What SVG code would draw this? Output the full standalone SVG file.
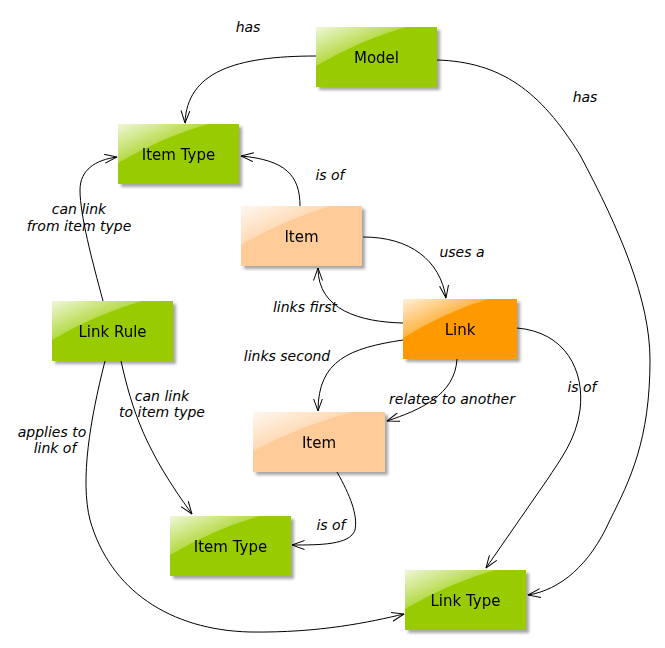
<svg xmlns="http://www.w3.org/2000/svg" width="665" height="648" viewBox="0 0 665 648">
<style>
.box{stroke:none}
.green{fill:#99CC00}
.peach{fill:#FFCC99}
.orange{fill:#FF9900}
.gloss{fill:url(#glossGrad)}
.nlabel{font-family:"DejaVu Sans",Verdana,sans-serif;font-size:15px;fill:#000;text-anchor:middle}
.elabel{font-family:"DejaVu Sans",Verdana,sans-serif;font-size:14px;font-style:italic;fill:#000;text-anchor:middle}
.edge{fill:none;stroke:#000;stroke-width:1;marker-end:url(#arrow)}
</style>
<defs>
<filter id="shadow" x="-10%" y="-10%" width="130%" height="140%">
<feDropShadow dx="3" dy="3" stdDeviation="1.5" flood-color="#000" flood-opacity="0.35"/>
</filter>
<linearGradient id="glossGrad" x1="0" y1="0" x2="1" y2="1">
<stop offset="0" stop-color="#fff" stop-opacity="0.85"/>
<stop offset="0.6" stop-color="#fff" stop-opacity="0.15"/>
<stop offset="1" stop-color="#fff" stop-opacity="0.05"/>
</linearGradient>
<marker id="arrow" viewBox="0 0 13 10" refX="12.5" refY="5" markerWidth="13" markerHeight="10" markerUnits="userSpaceOnUse" orient="auto">
<path d="M0,0.5 L12.5,5 L0,9.5" fill="none" stroke="#000" stroke-width="1"/>
</marker>
</defs>
<rect width="665" height="648" fill="#fff"/>

<g id="connectors">
<path class="edge" d="M316,56 C235,56 187,72 185,123"/>
<path class="edge" d="M300,206 C300,175 285,160 241,156"/>
<path class="edge" d="M437,60 C500,62 540,90 580,155 C620,230 650,300 650,360 C650,440 630,480 610,520 C590,565 560,590 528,595"/>
<path class="edge" d="M363,237 C410,237 440,260 446,298"/>
<path class="edge" d="M403,323 C360,322 318,310 318,268"/>
<path class="edge" d="M403,340 C350,348 318,360 318,411"/>
<path class="edge" d="M457,359 C455,395 420,410 387,421"/>
<path class="edge" d="M517,328 C565,332 585,370 580,410 C576,440 560,460 547,480 L486,568"/>
<path class="edge" d="M103,301 C92,260 80,215 80,190 C80,170 95,160 117,157"/>
<path class="edge" d="M121,361 C132,410 145,450 192,514"/>
<path class="edge" d="M105,361 C90,420 80,480 90,520 C110,590 170,630 250,632 C320,633 370,622 404,614"/>
<path class="edge" d="M337,472 C350,495 358,515 355,530 C350,545 320,545 292,545"/>
<text class="elabel" x="248" y="32">has</text>
<text class="elabel" x="585" y="102">has</text>
<text class="elabel" x="330" y="180">is of</text>
<text class="elabel" x="462" y="257">uses a</text>
<text class="elabel" x="305" y="312">links first</text>
<text class="elabel" x="287" y="361">links second</text>
<text class="elabel" x="452" y="404">relates to another</text>
<text class="elabel" x="582" y="392">is of</text>
<text class="elabel" x="79" y="214">can link</text>
<text class="elabel" x="79" y="231">from item type</text>
<text class="elabel" x="162" y="401">can link</text>
<text class="elabel" x="162" y="417">to item type</text>
<text class="elabel" x="52" y="437">applies to</text>
<text class="elabel" x="55" y="453">link of</text>
<text class="elabel" x="331" y="530">is of</text>
</g>

<g id="model" filter="url(#shadow)">
<rect class="box green" x="316" y="27" width="121" height="60"/>
<path class="gloss" d="M316,27 H406 Q360,40 316,66 Z"/>
<text class="nlabel" x="376.5" y="62.5">Model</text>
</g>
<g id="itemtype1" filter="url(#shadow)">
<rect class="box green" x="118" y="124" width="121" height="60"/>
<path class="gloss" d="M118,124 H208 Q162,137 118,163 Z"/>
<text class="nlabel" x="178.5" y="159.5">Item Type</text>
</g>
<g id="item1" filter="url(#shadow)">
<rect class="box peach" x="241" y="206" width="121" height="60"/>
<path class="gloss" d="M241,206 H331 Q285,219 241,245 Z"/>
<text class="nlabel" x="301.5" y="241.5">Item</text>
</g>
<g id="link" filter="url(#shadow)">
<rect class="box orange" x="403" y="299" width="114" height="60"/>
<path class="gloss" d="M403,299 H488 Q445,312 403,338 Z"/>
<text class="nlabel" x="460" y="334.5">Link</text>
</g>
<g id="linkrule" filter="url(#shadow)">
<rect class="box green" x="52" y="301" width="121" height="60"/>
<path class="gloss" d="M52,301 H142 Q96,314 52,340 Z"/>
<text class="nlabel" x="112.5" y="336.5">Link Rule</text>
</g>
<g id="item2" filter="url(#shadow)">
<rect class="box peach" x="253" y="412" width="132" height="60"/>
<path class="gloss" d="M253,412 H352 Q302,425 253,451 Z"/>
<text class="nlabel" x="319" y="447.5">Item</text>
</g>
<g id="itemtype2" filter="url(#shadow)">
<rect class="box green" x="170" y="516" width="121" height="60"/>
<path class="gloss" d="M170,516 H260 Q214,529 170,555 Z"/>
<text class="nlabel" x="230.5" y="551.5">Item Type</text>
</g>
<g id="linktype" filter="url(#shadow)">
<rect class="box green" x="405" y="570" width="121" height="60"/>
<path class="gloss" d="M405,570 H495 Q449,583 405,609 Z"/>
<text class="nlabel" x="465.5" y="605.5">Link Type</text>
</g>
</svg>
